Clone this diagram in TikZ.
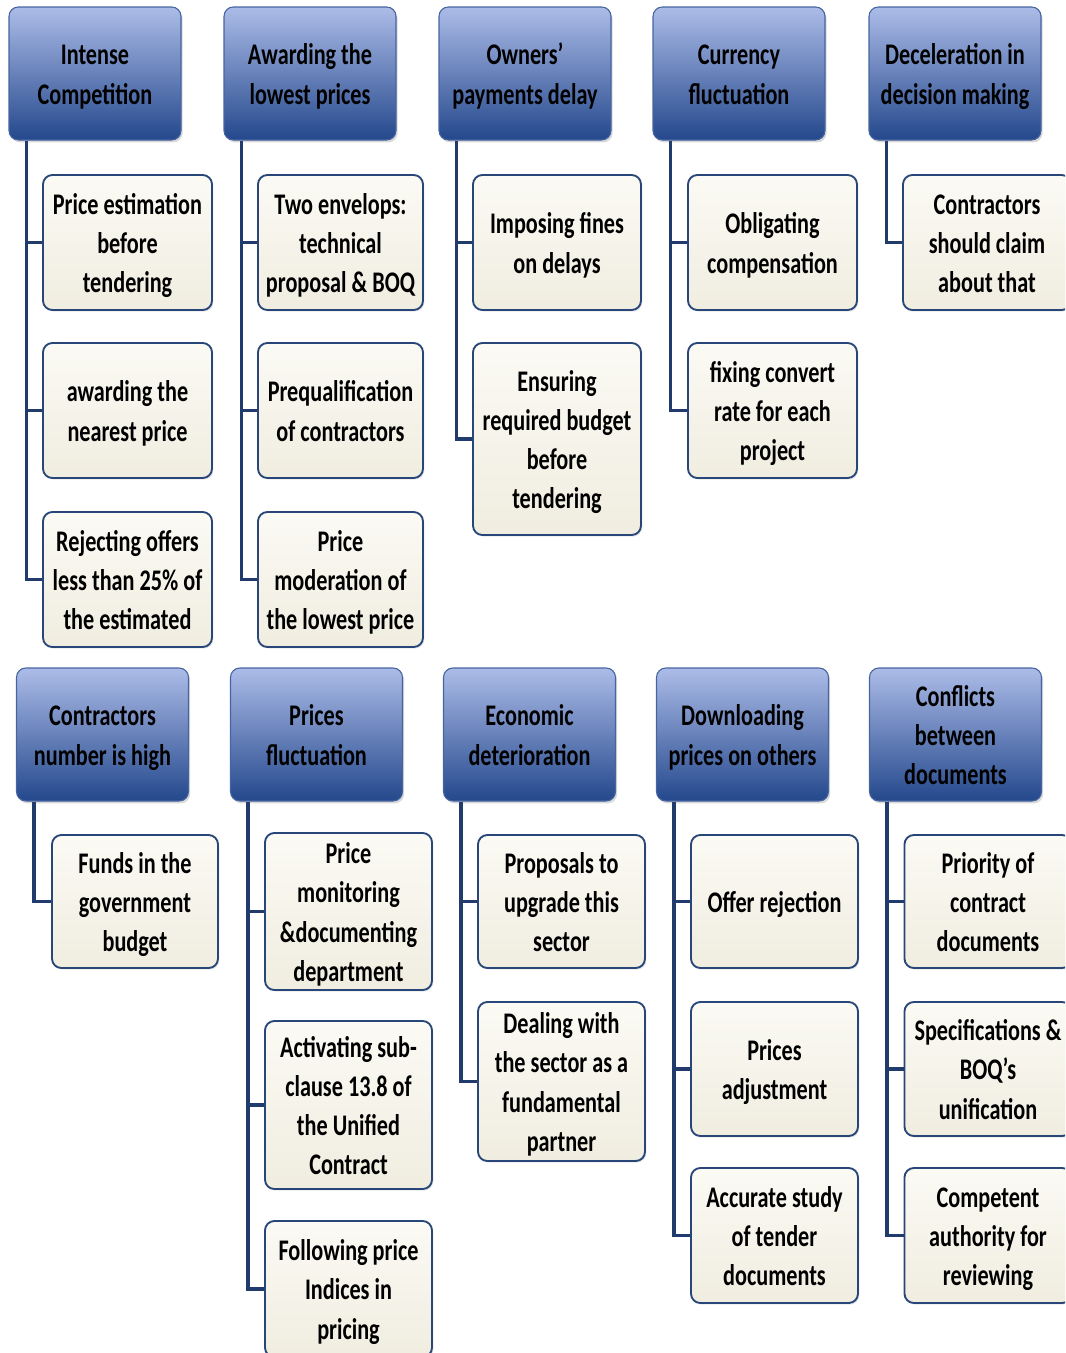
\documentclass[tikz,border=0pt]{standalone}
\usepackage{fontspec}
\setmainfont{Carlito}
\usetikzlibrary{shadows}
\definecolor{navy}{RGB}{33,60,108}
\definecolor{hdrtop}{RGB}{172,188,232}
\definecolor{hdrmid}{RGB}{104,130,196}
\definecolor{hdrbot}{RGB}{36,72,140}
\definecolor{hdrline}{RGB}{70,100,160}
\definecolor{leaftop}{RGB}{251,250,244}
\definecolor{leafbot}{RGB}{240,237,224}
\definecolor{leafline}{RGB}{40,70,120}
\newcommand\bt[1]{\raisebox{-2.3pt}[\height][\depth]{\scalebox{0.98}[1.32]{\begin{tabular}{@{}c@{}}#1\end{tabular}}}}
\tikzset{
  hdr/.style={draw=hdrline, line width=0.8pt, rounded corners=7pt,
    top color=hdrtop, middle color=hdrmid, bottom color=hdrbot,
    minimum width=172*0.75pt, minimum height=133*0.75pt, inner sep=0pt,
    font=\fontsize{17}{22.3}\selectfont\bfseries,
    drop shadow={opacity=0.3, shadow xshift=1.2pt, shadow yshift=-1.8pt}},
  leaf/.style 2 args={draw=leafline, line width=1.4pt, rounded corners=7pt,
    top color=leaftop, bottom color=leafbot,
    minimum width=#1*0.75pt, minimum height=#2*0.75pt, inner sep=0pt,
    font=\fontsize{17}{22.3}\selectfont\bfseries,
    drop shadow={opacity=0.2, shadow xshift=1pt, shadow yshift=-1.2pt}},
  conn/.style={draw=navy, line width=2.4pt}
}
\begin{document}
\begin{tikzpicture}[x=0.75pt,y=-0.75pt]
\useasboundingbox (0,0) rectangle (1065,1353);
\clip (0,0) rectangle (1065,1353);
% ---------- Row 1 headers ----------
\node[hdr] (h1) at (95,73.5) {\bt{Intense\\Competition}};
\node[hdr] (h2) at (310,73.5) {\bt{Awarding the\\lowest prices}};
\node[hdr] (h3) at (525,73.5) {\bt{Owners’\\payments delay}};
\node[hdr] (h4) at (739,73.5) {\bt{Currency\\fluctuation}};
\node[hdr] (h5) at (955,73.5) {\bt{Deceleration in\\decision making}};
% ---------- Row 1 children ----------
\node[leaf={169}{135}] (a1) at (127.5,242.5) {\bt{Price estimation\\before\\tendering}};
\node[leaf={169}{135}] (a2) at (127.5,410.5) {\bt{awarding the\\nearest price}};
\node[leaf={169}{135}] (a3) at (127.5,579.5) {\bt{Rejecting offers\\less than 25\% of\\the estimated}};
\node[leaf={165}{135}] (b1) at (340.5,242.5) {\bt{Two envelops:\\technical\\proposal \& BOQ}};
\node[leaf={165}{135}] (b2) at (340.5,410.5) {\bt{Prequalification\\of contractors}};
\node[leaf={165}{135}] (b3) at (340.5,579.5) {\bt{Price\\moderation of\\the lowest price}};
\node[leaf={168}{135}] (c1) at (557,242.5) {\bt{Imposing fines\\on delays}};
\node[leaf={168}{192}] (c2) at (557,439) {\bt{Ensuring\\required budget\\before\\tendering}};
\node[leaf={169}{135}] (d1) at (772.5,242.5) {\bt{Obligating\\compensation}};
\node[leaf={169}{135}] (d2) at (772.5,410.5) {\bt{fixing convert\\rate for each\\project}};
\node[leaf={168}{135}] (e1) at (987,242.5) {\bt{Contractors\\should claim\\about that}};
% ---------- Row 1 connectors ----------
\foreach \h/\c in {h1/a1,h1/a2,h1/a3,h2/b1,h2/b2,h2/b3,h3/c1,h3/c2,h4/d1,h4/d2,h5/e1}
  \draw[conn] ([xshift=13.5pt]\h.south west) |- (\c.west);
% ---------- Row 2 headers ----------
\node[hdr] (H1) at (102.5,734.5) {\bt{Contractors\\number is high}};
\node[hdr] (H2) at (316.5,734.5) {\bt{Prices\\fluctuation}};
\node[hdr] (H3) at (529.5,734.5) {\bt{Economic\\deterioration}};
\node[hdr] (H4) at (742.5,734.5) {\bt{Downloading\\prices on others}};
\node[hdr] (H5) at (955.5,734.5) {\bt{Conflicts\\between\\documents}};
% ---------- Row 2 children ----------
\node[leaf={166}{133}] (f1) at (135,901.5) {\bt{Funds in the\\government\\budget}};
\node[leaf={167}{153}] (g1) at (348.5,911.5) {\bt{Price\\monitoring\\\&documenting\\department}};
\node[leaf={167}{168}] (g2) at (348.5,1105) {\bt{Activating sub-\\clause 13.8 of\\the Unified\\Contract}};
\node[leaf={167}{136}] (g3) at (348.5,1289) {\bt{Following price\\Indices in\\pricing}};
\node[leaf={167}{133}] (i1) at (561.5,901.5) {\bt{Proposals to\\upgrade this\\sector}};
\node[leaf={167}{159}] (i2) at (561.5,1081.5) {\bt{Dealing with\\the sector as a\\fundamental\\partner}};
\node[leaf={167}{133}] (j1) at (774.5,901.5) {\bt{Offer rejection}};
\node[leaf={167}{134}] (j2) at (774.5,1069) {\bt{Prices\\adjustment}};
\node[leaf={167}{135}] (j3) at (774.5,1235.5) {\bt{Accurate study\\of tender\\documents}};
\node[leaf={167}{133}] (k1) at (988,901.5) {\bt{Priority of\\contract\\documents}};
\node[leaf={167}{134}] (k2) at (988,1069) {\bt{Specifications \&\\BOQ’s\\unification}};
\node[leaf={167}{135}] (k3) at (988,1235.5) {\bt{Competent\\authority for\\reviewing}};
% ---------- Row 2 connectors ----------
\foreach \h/\c in {H1/f1,H2/g1,H2/g2,H2/g3,H3/i1,H3/i2,H4/j1,H4/j2,H4/j3,H5/k1,H5/k2,H5/k3}
  \draw[conn] ([xshift=13.5pt]\h.south west) |- (\c.west);
\end{tikzpicture}
\end{document}
